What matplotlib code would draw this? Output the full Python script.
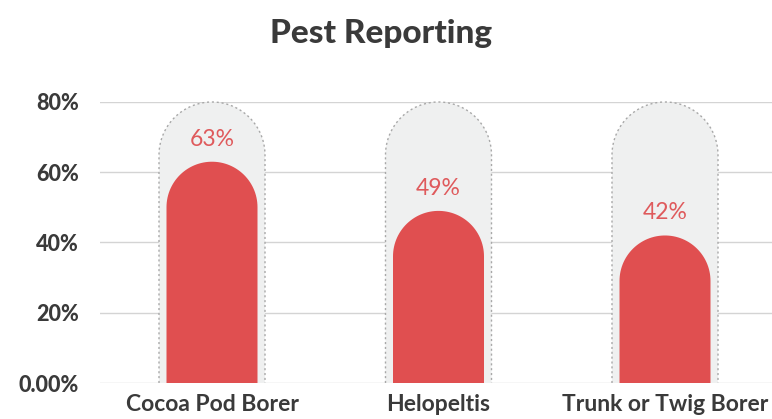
import numpy as np
import matplotlib
matplotlib.use("Agg")
import matplotlib.pyplot as plt
from matplotlib.patches import PathPatch
from matplotlib.path import Path

categories = ["Cocoa Pod Borer", "Helopeltis", "Trunk or Twig Borer"]
values = [63, 49, 42]
value_labels = ["63%", "49%", "42%"]
yticks = [0, 20, 40, 60, 80]
ytick_labels = ["0.00%", "20%", "40%", "60%", "80%"]
bg_max = 80

W, H, DPI = 772, 419, 100
fig = plt.figure(figsize=(W / DPI, H / DPI), dpi=DPI)
fig.patch.set_facecolor("white")

ax_left_px, ax_right_px = 100, 772
ax_bottom_px, ax_top_px = 383, 102
ax = fig.add_axes([ax_left_px / W, 1 - ax_bottom_px / H,
                   (ax_right_px - ax_left_px) / W, (ax_bottom_px - ax_top_px) / H])

x = np.arange(len(categories))
first_center_px = 212
spacing_px = 226.5
xlim_left = -(first_center_px - ax_left_px) / spacing_px
xlim_right = xlim_left + (ax_right_px - ax_left_px) / spacing_px
ax.set_xlim(xlim_left, xlim_right)
ax.set_ylim(0, 80)

px_per_x = spacing_px
px_per_y = (ax_bottom_px - ax_top_px) / 80.0


def capsule(xc, top, width):
    rx = width / 2
    ry = rx * px_per_x / px_per_y
    th = np.linspace(np.pi, 0, 60)
    pts = [(xc - rx, 0), (xc - rx, top - ry)]
    pts += list(zip(xc + rx * np.cos(th), top - ry + ry * np.sin(th)))
    pts += [(xc + rx, 0)]
    return Path(pts)


bar_w = 91 / spacing_px
bg_w = 106 / spacing_px

ax.set_yticks(yticks)
ax.set_yticklabels(ytick_labels)
ax.grid(axis="y", color="#d4d4d4", linewidth=1.0)
ax.set_axisbelow(True)
for s in ax.spines.values():
    s.set_visible(False)

for xi, v, lab in zip(x, values, value_labels):
    p_bg = PathPatch(capsule(xi, bg_max, bg_w), facecolor="#eff0f0",
                     edgecolor="#a8a8a8", linewidth=1.0, linestyle=(0, (1.5, 2)),
                     zorder=2, clip_on=False)
    ax.add_patch(p_bg)
    p = PathPatch(capsule(xi, v, bar_w), facecolor="#e04f50", edgecolor="none",
                  zorder=3, clip_on=False)
    ax.add_patch(p)
    ax.text(xi, v + 6.4, lab, ha="center", va="center", color="#df5a5c",
            fontsize=16.5, family="Lato", zorder=4)

ax.set_xticks(x)
ax.set_xticklabels(categories, family="Lato", fontweight="bold", fontsize=16.5,
                   color="#3a3a3a")
ax.tick_params(axis="x", length=0, pad=8)
ax.tick_params(axis="y", length=0, pad=15, labelsize=15.5, labelcolor="#3a3a3a")
for t in ax.get_yticklabels():
    t.set_family("Lato")
    t.set_fontweight("black")

fig.text(381 / W, 1 - 33 / H, "Pest Reporting", ha="center", va="center",
         family="Lato", fontweight="black", fontsize=24, color="#3a3a3a")

fig.savefig("out.png", dpi=DPI)
